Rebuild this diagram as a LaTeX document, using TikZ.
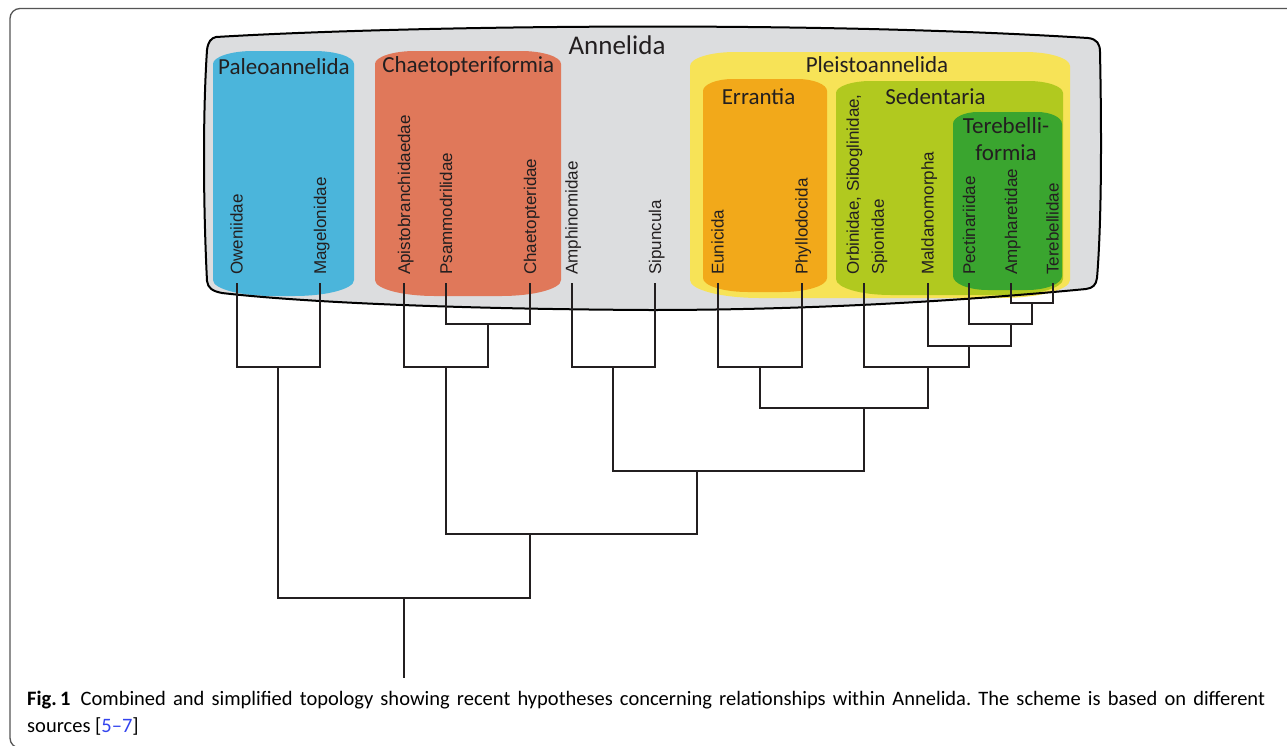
\documentclass[tikz,border=0pt]{standalone}
\usepackage{fontspec}
\setmainfont{Carlito}
\newfontfamily\tipfont{Liberation Sans}
\definecolor{annegray}{HTML}{DCDDDF}
\definecolor{paleoblue}{HTML}{4BB5DB}
\definecolor{chaetored}{HTML}{E0785A}
\definecolor{pleistoyellow}{HTML}{F7E357}
\definecolor{errantorange}{HTML}{F2A91A}
\definecolor{sedgreen}{HTML}{B1C91F}
\definecolor{terebgreen}{HTML}{3AA52F}
\definecolor{treeblack}{HTML}{231F20}
\definecolor{framegray}{HTML}{555555}
\definecolor{refblue}{HTML}{3344EE}
% group box: style, l, r, t, b, rx top, ry top, rx bottom, ry bottom
\newcommand{\grpbox}[9]{%
  \fill[#1] (#2,{#4+#7}) .. controls (#2,{#4+0.45*#7}) and ({#2+0.45*#6},#4) .. ({#2+#6},#4)
    -- ({#3-#6},#4) .. controls ({#3-0.45*#6},#4) and (#3,{#4+0.45*#7}) .. (#3,{#4+#7})
    -- (#3,{#5-#9}) .. controls (#3,{#5-0.45*#9}) and ({#3-0.45*#8},#5) .. ({#3-#8},#5)
    -- ({#2+#8},#5) .. controls ({#2+0.45*#8},#5) and (#2,{#5-0.45*#9}) .. (#2,{#5-#9}) -- cycle;}
\begin{document}
\begin{tikzpicture}[x=1pt,y=-1pt,
  tree/.style={line width=2pt, draw=treeblack, line join=miter},
  tiplabel/.style={rotate=90, anchor=base west, inner sep=0pt, text=treeblack,
    font=\tipfont\fontsize{17}{25}\selectfont},
  grouplabel/.style={anchor=base, inner sep=0pt, text=treeblack,
    font=\fontsize{23}{27.4}\selectfont},
  caption/.style={anchor=base west, inner sep=0pt, text=black,
    font=\fontsize{20.5}{26}\selectfont},
]
\useasboundingbox (0,0) rectangle (1287,745);
\fill[white] (0,0) rectangle (1287,745);
\begin{scope}
  \clip (0,0) rectangle (1287,745);
  \draw[framegray, line width=1.3pt, rounded corners=10pt] (10,8.5) rectangle (1310,748);
\end{scope}

% Annelida region
\fill[annegray] (216,37) .. controls (400,26) and (800,20) .. (1088,38)
  .. controls (1097,39) and (1100,44) .. (1100,52)
  .. controls (1102,150) and (1101,230) .. (1097,278)
  .. controls (1096,285) and (1093,288) .. (1086,289)
  .. controls (950,302) and (800,310) .. (650,310)
  .. controls (450,309) and (300,302) .. (222,293)
  .. controls (212,291) and (208,288) .. (207,281)
  .. controls (203,200) and (203,110) .. (207,50)
  .. controls (208,42) and (211,38) .. (216,37) -- cycle;

% coloured groups
\grpbox{paleoblue}{213}{354}{51}{296}{40}{13}{60}{16}
\grpbox{chaetored}{375}{561}{51}{296}{40}{13}{60}{16}
\grpbox{pleistoyellow}{690}{1070}{52}{298}{45}{14}{70}{18}
\grpbox{errantorange}{703}{827}{79}{292}{30}{12}{45}{14}
\grpbox{sedgreen}{836}{1063}{81}{295}{35}{12}{55}{16}
\grpbox{terebgreen}{953}{1062}{112}{290}{25}{12}{35}{14}

% Annelida outline
\draw[black, line width=2pt] (216,37) .. controls (400,26) and (800,20) .. (1088,38)
  .. controls (1097,39) and (1100,44) .. (1100,52)
  .. controls (1102,150) and (1101,230) .. (1097,278)
  .. controls (1096,285) and (1093,288) .. (1086,289)
  .. controls (950,302) and (800,310) .. (650,310)
  .. controls (450,309) and (300,302) .. (222,293)
  .. controls (212,291) and (208,288) .. (207,281)
  .. controls (203,200) and (203,110) .. (207,50)
  .. controls (208,42) and (211,38) .. (216,37) -- cycle;

% group labels
\node[grouplabel, font=\fontsize{27}{30}\selectfont] (gAnn) at (617,54.3) {Annelida};
\node[grouplabel] (gPal) at (284,74) {Paleoannelida};
\node[grouplabel] (gCha) at (468.3,72.7) {Chaetopteriformia};
\node[grouplabel] (gPle) at (877,72.7) {Pleistoannelida};
\node[grouplabel] (gErr) at (758.5,104) {Errantia};
\node[grouplabel] (gSed) at (935.5,104) {Sedentaria};
\node[grouplabel, align=center] (gTer) at (1006,160.7) {Terebelli-\\formia};

% tips and their labels
\foreach \n/\x/\t in {Owe/236.7/Oweniidae, Mag/320/Magelonidae, Api/404/Apistobranchidaedae,
  Psa/446/Psammodrilidae, Cha/530/Chaetopteridae, Amp/571.7/Amphinomidae, Sip/655/Sipuncula,
  Eun/717.7/Eunicida, Phy/801.7/Phyllodocida, Mal/927.7/Maldanomorpha,
  Pec/969/Pectinariidae, Amh/1011/Ampharetidae, Ter/1052.7/Terebellidae}{
  \coordinate (t\n) at (\x,283);
  \node[tiplabel] (l\n) at ({\x+6},275) {\t};
}
\coordinate (tOrb) at (864.3,283);
\node[tiplabel, anchor=west, align=left] (lOrb) at (867,275) {Orbinidae, Siboglinidae,\\Spionidae};

% internal nodes
\coordinate (n1) at (278.3,366.7);
\coordinate (n2) at (488,324.3);
\coordinate (n3) at (446,366.7);
\coordinate (n4) at (613.3,366.7);
\coordinate (n5) at (760,366.7);
\coordinate (n6) at (1032.3,303.3);
\coordinate (n7) at (1011,324.3);
\coordinate (n8) at (969,345.7);
\coordinate (n9) at (927.7,366.7);
\coordinate (n10) at (864.3,408.3);
\coordinate (n11) at (697,470.7);
\coordinate (n12) at (530,534.3);
\coordinate (n13) at (404,597.7);
\coordinate (root) at (404,678);

% tree
\draw[tree] (tOwe) |- (n1) -| (tMag);
\draw[tree] (tPsa) |- (n2) -| (tCha);
\draw[tree] (tApi) |- (n3) -| (n2);
\draw[tree] (tAmp) |- (n4) -| (tSip);
\draw[tree] (tEun) |- (n5) -| (tPhy);
\draw[tree] (tAmh) |- (n6) -| (tTer);
\draw[tree] (tPec) |- (n7) -| (n6);
\draw[tree] (tMal) |- (n8) -| (n7);
\draw[tree] (tOrb) |- (n9) -| (n8);
\draw[tree] (n5) |- (n10) -| (n9);
\draw[tree] (n4) |- (n11) -| (n10);
\draw[tree] (n3) |- (n12) -| (n11);
\draw[tree] (n1) |- (n13) -| (n12);
\draw[tree] (n13) -- (root);

% caption
\node[caption] (cap1) at (27,705.5)
  {\frenchspacing\makebox[1238pt][s]{\mbox{\textbf{Fig.\,1}\hspace{10pt}}Combined and simplified topology showing recent hypotheses concerning relationships within Annelida. The scheme is based on different}};
\node[caption] (cap2) at (27,732)
  {sources [\textcolor{refblue}{5–7}]};
\end{tikzpicture}
\end{document}
